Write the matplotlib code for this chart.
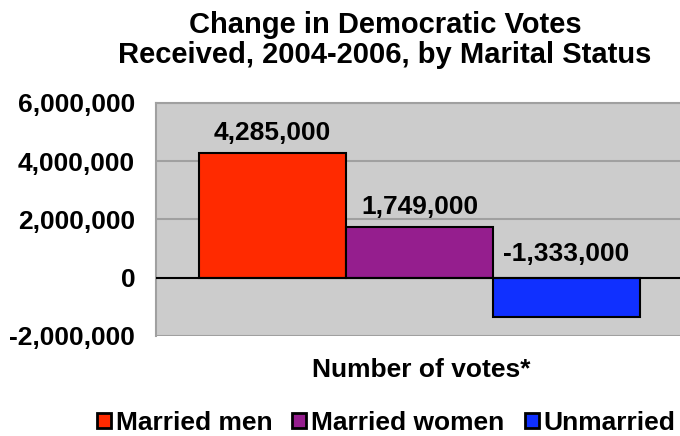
import matplotlib
matplotlib.use("Agg")
import matplotlib.pyplot as plt
from matplotlib.patches import Patch

plt.rcParams['font.family'] = ['Liberation Sans', 'DejaVu Sans']
plt.rcParams['font.weight'] = 'bold'

groups = ["Married men", "Married women", "Unmarried"]
votes = [4285000, 1749000, -1333000]
value_labels = ["4,285,000", "1,749,000", "-1,333,000"]
yticks = [-2000000, 0, 2000000, 4000000, 6000000]
ytick_labels = ["-2,000,000", "0", "2,000,000", "4,000,000", "6,000,000"]
colors = ["#FF2A00", "#951E8E", "#1030FF"]


def main():
    fig = plt.figure(figsize=(6.8, 4.36), dpi=100)
    ax = fig.add_axes([0.2294, 0.2294, 0.775, 0.5344])
    ax.set_facecolor("#CCCCCC")

    x = [-1, 0, 1]
    ax.bar(x, votes, width=1.0, color=colors, edgecolor="black",
           linewidth=1.5, zorder=3)

    ax.set_xlim(-1.793, 1.793)
    ax.set_ylim(-2000000, 6000000)
    ax.set_yticks(yticks)
    ax.set_yticklabels(ytick_labels, fontsize=19, fontweight='bold')
    ax.tick_params(axis='y', length=0, pad=15)
    ax.set_xticks([])

    for v in yticks:
        if v == 0:
            ax.axhline(v, color="black", linewidth=1.5, zorder=4)
        else:
            ax.axhline(v, color="#A0A0A0", linewidth=1.5, zorder=1)

    for s in ["left", "top"]:
        ax.spines[s].set_color("#A0A0A0")
        ax.spines[s].set_linewidth(1.5)
    ax.spines["right"].set_visible(False)
    ax.spines["bottom"].set_visible(False)

    # value labels sit above the bar top (or above the zero line for losses)
    for xi, v, lab in zip(x, votes, value_labels):
        base = max(v, 0)
        off = 9.5 if v > 0 else 12
        ax.annotate(lab, (xi, base), xytext=(0, off), textcoords="offset points",
                    ha="center", va="baseline", fontsize=19, fontweight='bold')

    fig.text(0.566, 0.924, "Change in Democratic Votes", ha="center", va="baseline",
             fontsize=21, fontweight='bold')
    fig.text(0.566, 0.8555, "Received, 2004-2006, by Marital Status", ha="center",
             va="baseline", fontsize=21, fontweight='bold')

    fig.text(0.619, 0.135, "Number of votes*", ha="center", va="baseline",
             fontsize=19, fontweight='bold')

    handles = [Patch(facecolor=c, edgecolor="black", linewidth=2) for c in colors]
    fig.legend(handles, groups, loc="center", bbox_to_anchor=(0.568, 0.03),
               ncol=3, frameon=False, handlelength=0.53,
               handleheight=0.53, handletextpad=0.19, columnspacing=0.76,
               borderaxespad=0, borderpad=0,
               prop={'weight': 'bold', 'size': 19})

    fig.savefig("out.png", dpi=100)


if __name__ == "__main__":
    main()
